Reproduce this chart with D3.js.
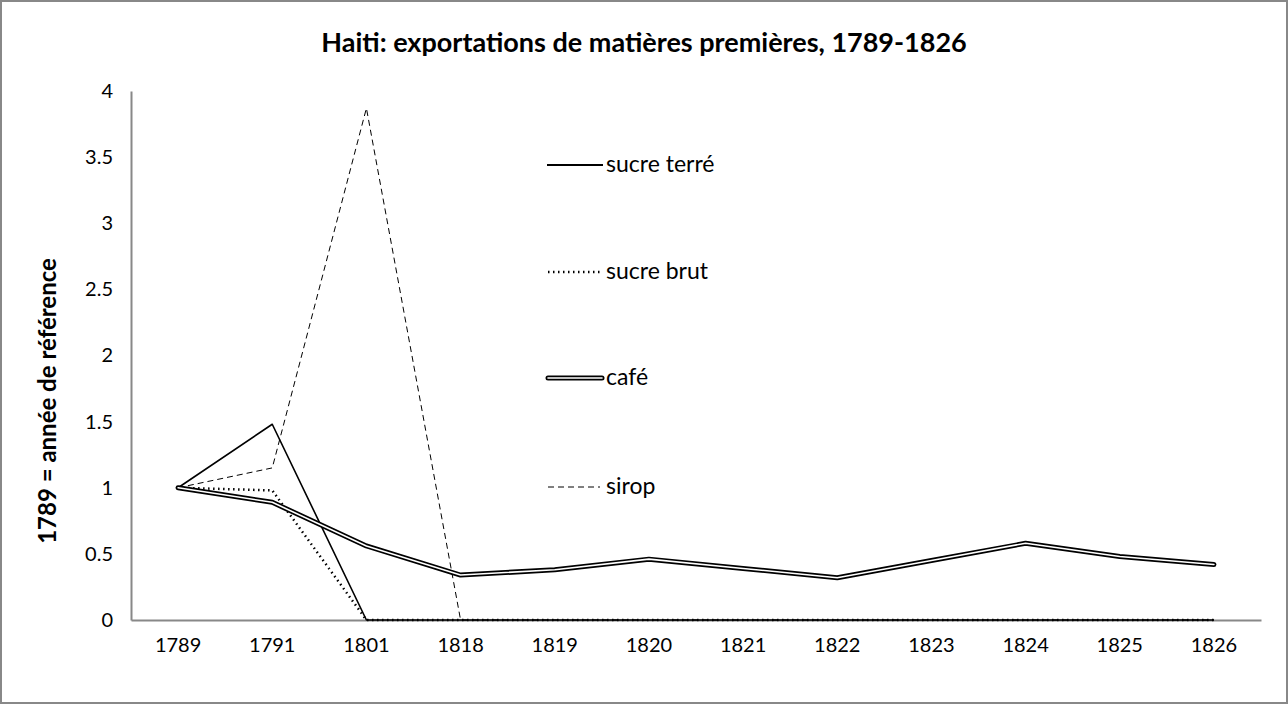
<!DOCTYPE html>
<html><head><meta charset="utf-8">
<script src="https://cdn.jsdelivr.net/npm/d3@7"></script>
<style>body{margin:0;background:#fff}svg{display:block;font-family:Lato,"Open Sans",sans-serif}</style>
</head><body><svg id="c" width="1288" height="704"></svg>
<script>
const categories = ["1789","1791","1801","1818","1819","1820","1821","1822","1823","1824","1825","1826"];
const sucreTerre = [1, 1.48, 0, 0, 0, 0, 0, 0, 0, 0, 0, 0];
const sucreBrut  = [1, 0.98, 0, 0, 0, 0, 0, 0, 0, 0, 0, 0];
const cafe       = [1, 0.89, 0.56, 0.34, 0.38, 0.46, 0.39, 0.32, 0.45, 0.58, 0.48, 0.42];
const sirop      = [1, 1.15, 3.87, 0, 0, 0, 0, 0, 0, 0, 0, 0];
const yTicks = [0, 0.5, 1, 1.5, 2, 2.5, 3, 3.5, 4];
const seriesNames = ["sucre terré", "sucre brut", "café", "sirop"];

const svg = d3.select("#c");
svg.append("rect").attr("x",1).attr("y",1).attr("width",1286).attr("height",702)
  .attr("fill","#fff").attr("stroke","#888").attr("stroke-width",2);

const x = d3.scaleBand().domain(categories).range([131,1261]);
const y = d3.scaleLinear().domain([0,4]).range([620,91]);
const cx = c => x(c) + x.bandwidth()/2;

svg.append("text").attr("x",644).attr("y",52).attr("text-anchor","middle")
  .attr("font-weight","bold").attr("font-size",27).text("Haiti: exportations de matières premières, 1789-1826");
svg.append("text").attr("transform","translate(56,401) rotate(-90)").attr("text-anchor","middle")
  .attr("font-weight","bold").attr("font-size",24).text("1789 = année de référence");

const yAxis = svg.append("g").attr("transform","translate(131,0)")
  .call(d3.axisLeft(y).tickValues(yTicks).tickSize(0).tickPadding(18).tickFormat(d3.format("")));
yAxis.select(".domain").attr("stroke","#888").attr("stroke-width",2);
yAxis.selectAll("text").attr("font-size",20).attr("fill","#000").attr("font-family","Lato,'Open Sans',sans-serif");

const xAxis = svg.append("g").attr("transform","translate(0,620)")
  .call(d3.axisBottom(x).tickSize(0).tickPadding(18));
xAxis.select(".domain").attr("stroke","#888").attr("stroke-width",2);
xAxis.selectAll("text").attr("font-size",20).attr("fill","#000").attr("font-family","Lato,'Open Sans',sans-serif");

const line = d3.line().x((d,i)=>cx(categories[i])).y(d=>y(d));
const g = svg.append("g").attr("fill","none").attr("stroke-linejoin","round");

// sirop dashed
g.append("path").datum(sirop).attr("d",line).attr("stroke","#000").attr("stroke-width",1).attr("stroke-dasharray","6,4");
// sucre brut dotted
g.append("path").datum(sucreBrut).attr("d",line).attr("stroke","#000").attr("stroke-width",2.5).attr("stroke-dasharray","1.5,3.5");
// sucre terré solid
g.append("path").datum(sucreTerre).attr("d",line).attr("stroke","#000").attr("stroke-width",1.6);
// café double
g.append("path").datum(cafe).attr("d",line).attr("stroke","#000").attr("stroke-width",5).attr("stroke-linecap","round");
g.append("path").datum(cafe).attr("d",line).attr("stroke","#fff").attr("stroke-width",1.6).attr("stroke-linecap","round");

// legend
const legY = [165, 272, 378, 487];
const lg = svg.append("g");
seriesNames.forEach((n,i)=>{
  const yy = legY[i];
  if (i===0) lg.append("line").attr("x1",547).attr("x2",603).attr("y1",yy).attr("y2",yy).attr("stroke","#000").attr("stroke-width",2);
  if (i===1) lg.append("line").attr("x1",548).attr("x2",601).attr("y1",yy).attr("y2",yy).attr("stroke","#000").attr("stroke-width",2.5).attr("stroke-dasharray","1.5,3.5");
  if (i===2) {
    lg.append("line").attr("x1",548).attr("x2",602).attr("y1",yy).attr("y2",yy).attr("stroke","#000").attr("stroke-width",5).attr("stroke-linecap","round");
    lg.append("line").attr("x1",548).attr("x2",602).attr("y1",yy).attr("y2",yy).attr("stroke","#fff").attr("stroke-width",1.6).attr("stroke-linecap","round");
  }
  if (i===3) lg.append("line").attr("x1",548).attr("x2",600).attr("y1",yy).attr("y2",yy).attr("stroke","#000").attr("stroke-width",1).attr("stroke-dasharray","6,4");
  lg.append("text").attr("x",606).attr("y",yy+7).attr("font-size",23).text(n);
});
</script></body></html>
